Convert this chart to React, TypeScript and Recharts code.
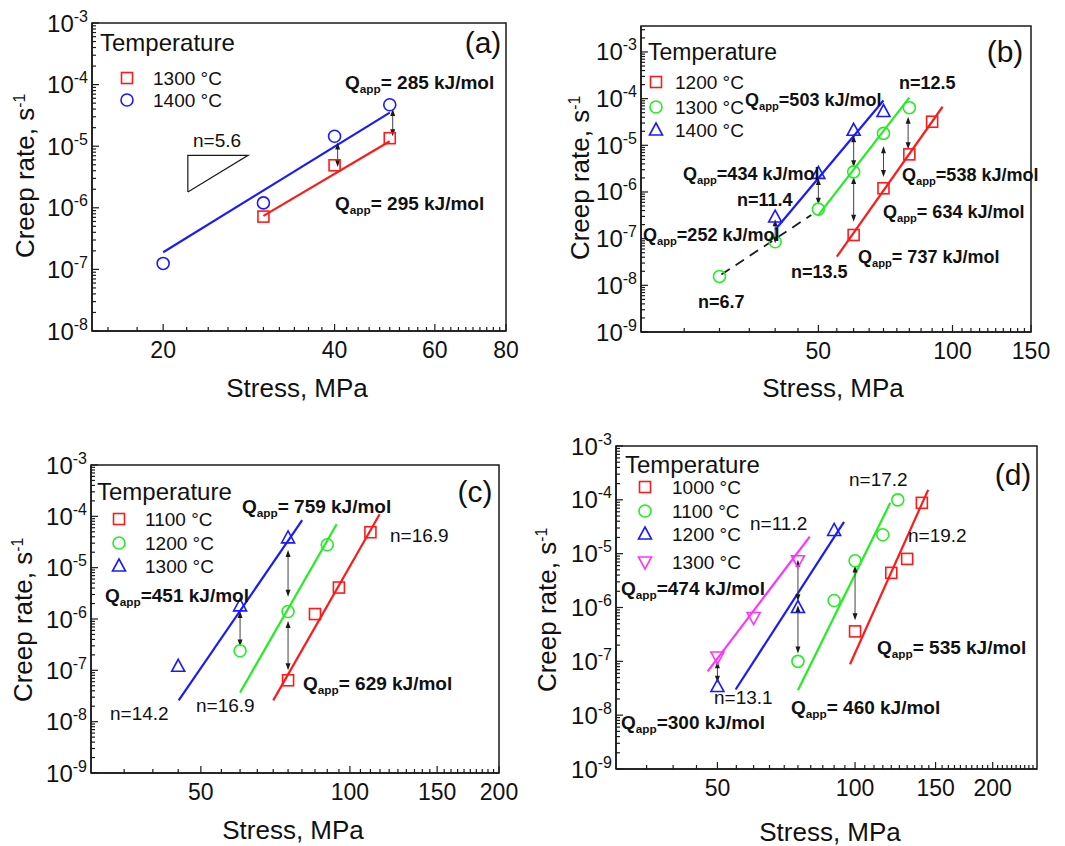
import React from 'react';
import { ComposedChart, Line, Scatter, XAxis, YAxis, ReferenceLine, ReferenceArea } from 'recharts';

const FONT = '"Liberation Sans", Arial, Helvetica, sans-serif';
const RED = '#ff1a1a';
const GREEN = '#22ee22';
const BLUE = '#1a1aff';
const MAGENTA = '#ff33ff';
const INK = '#1a1a1a';

type Pt = { x: number; y: number };
type Arrow = { x: number; y1: number; y2: number };
type Kind = 'square' | 'circle' | 'up' | 'down';

// ---- (a) ----
const a1300: Pt[] = [{ x: 30, y: 7.2e-7 }, { x: 40, y: 4.9e-6 }, { x: 50, y: 1.35e-5 }];
const a1400: Pt[] = [{ x: 20, y: 1.25e-7 }, { x: 30, y: 1.2e-6 }, { x: 40, y: 1.45e-5 }, { x: 50, y: 4.7e-5 }];
const aFit1300: Pt[] = [{ x: 30, y: 7.4e-7 }, { x: 50, y: 1.2e-5 }];
const aFit1400: Pt[] = [{ x: 20, y: 1.9e-7 }, { x: 50, y: 3.5e-5 }];
const aSlope: Pt[] = [{ x: 22.1, y: 1.8e-6 }, { x: 22.1, y: 7.1e-6 }, { x: 28.2, y: 7.1e-6 }, { x: 22.1, y: 1.8e-6 }];
const aArrows: Arrow[] = [{ x: 40.5, y1: 1.15e-5, y2: 4.6e-6 }, { x: 50.6, y1: 4e-5, y2: 1.45e-5 }];
const aXMajor = [20, 40, 60, 80];
const aXMinor = [16, 18, 22, 24, 26, 28, 30, 32, 34, 36, 38, 42, 44, 46, 48, 50, 52, 54, 56, 58, 62, 64, 66, 68, 70, 72, 74, 76, 78];
const aYMajor = [1e-8, 1e-7, 1e-6, 1e-5, 1e-4, 1e-3];

// ---- (b) ----
const b1200: Pt[] = [{ x: 60, y: 1.2e-7 }, { x: 70, y: 1.2e-6 }, { x: 80, y: 6.4e-6 }, { x: 90, y: 3.2e-5 }];
const b1300: Pt[] = [{ x: 30, y: 1.55e-8 }, { x: 40, y: 8.6e-8 }, { x: 50, y: 4.3e-7 }, { x: 60, y: 2.7e-6 }, { x: 70, y: 1.8e-5 }, { x: 80, y: 6.4e-5 }];
const b1400: Pt[] = [{ x: 40, y: 2.9e-7 }, { x: 50, y: 2.5e-6 }, { x: 60, y: 2.1e-5 }, { x: 70, y: 5.3e-5 }];
const bFit1200: Pt[] = [{ x: 55, y: 4.1e-8 }, { x: 95, y: 6.7e-5 }];
const bFit1300: Pt[] = [{ x: 50, y: 3.2e-7 }, { x: 80, y: 1.05e-4 }];
const bFit1400: Pt[] = [{ x: 40, y: 1.55e-7 }, { x: 70, y: 9.1e-5 }];
const bFitLow: Pt[] = [{ x: 30.3, y: 1.7e-8 }, { x: 48.2, y: 3.2e-7 }];
const bArrows: Arrow[] = [
  { x: 40, y1: 2.6e-7, y2: 8e-8 },
  { x: 50, y1: 2e-6, y2: 5.3e-7 },
  { x: 60, y1: 1.64e-5, y2: 3.4e-6 },
  { x: 60, y1: 2.1e-6, y2: 2.3e-7 },
  { x: 70, y1: 9.5e-6, y2: 2.1e-6 },
  { x: 79.5, y1: 4.1e-5, y2: 8.2e-6 },
];
const bXMajor = [50, 100, 150];
const bXMinor = [25, 30, 35, 40, 45, 55, 60, 65, 70, 75, 80, 85, 90, 95, 105, 110, 115, 120, 125, 130, 135, 140, 145];
const bYMajor = [1e-9, 1e-8, 1e-7, 1e-6, 1e-5, 1e-4, 1e-3];

// ---- (c) ----
const c1100: Pt[] = [{ x: 75, y: 6.4e-8 }, { x: 85, y: 1.25e-6 }, { x: 95, y: 4.1e-6 }, { x: 110, y: 4.9e-5 }];
const c1200: Pt[] = [{ x: 60, y: 2.4e-7 }, { x: 75, y: 1.4e-6 }, { x: 90, y: 2.8e-5 }];
const c1300: Pt[] = [{ x: 45, y: 1.2e-7 }, { x: 60, y: 1.8e-6 }, { x: 75, y: 3.8e-5 }];
const cFit1100: Pt[] = [{ x: 70, y: 2.6e-8 }, { x: 114.8, y: 1.1e-4 }];
const cFit1200: Pt[] = [{ x: 60, y: 3.7e-8 }, { x: 94, y: 7e-5 }];
const cFit1300: Pt[] = [{ x: 45.1, y: 2.6e-8 }, { x: 80.1, y: 8.4e-5 }];
const cArrows: Arrow[] = [
  { x: 60, y1: 1.43e-6, y2: 2.9e-7 },
  { x: 75, y1: 2.2e-5, y2: 2.7e-6 },
  { x: 75, y1: 9.1e-7, y2: 1e-7 },
];
const cXMajor = [50, 100, 150, 200];
const cXMinor = [35, 40, 45, 55, 60, 65, 70, 75, 80, 85, 90, 95, 105, 110, 115, 120, 125, 130, 135, 140, 145, 155, 160, 165, 170, 175, 180, 185, 190, 195];

// ---- (d) ----
const d1000: Pt[] = [{ x: 100, y: 3.6e-7 }, { x: 120, y: 4.4e-6 }, { x: 130, y: 8e-6 }, { x: 140, y: 8.8e-5 }];
const d1100: Pt[] = [{ x: 75, y: 1e-7 }, { x: 90, y: 1.35e-6 }, { x: 100, y: 7.4e-6 }, { x: 115, y: 2.25e-5 }, { x: 124, y: 1e-4 }];
const d1200: Pt[] = [{ x: 50, y: 3.4e-8 }, { x: 75, y: 1e-6 }, { x: 90, y: 2.7e-5 }];
const d1300: Pt[] = [{ x: 50, y: 1.2e-7 }, { x: 60, y: 6.5e-7 }, { x: 75, y: 7.4e-6 }];
const dFit1000: Pt[] = [{ x: 97.5, y: 8.8e-8 }, { x: 144.5, y: 1.53e-4 }];
const dFit1100: Pt[] = [{ x: 75, y: 2.9e-8 }, { x: 119.4, y: 8.8e-5 }];
const dFit1200: Pt[] = [{ x: 54.8, y: 3e-8 }, { x: 94.6, y: 3.9e-5 }];
const dFit1300: Pt[] = [{ x: 47.6, y: 6.5e-8 }, { x: 79.6, y: 2.07e-5 }];
const dArrows: Arrow[] = [
  { x: 50, y1: 1e-7, y2: 4e-8 },
  { x: 75, y1: 7.7e-6, y2: 1.3e-6 },
  { x: 75, y1: 1.1e-6, y2: 1.4e-7 },
  { x: 100, y1: 6e-6, y2: 5.8e-7 },
];
const dXMajor = [50, 100, 150, 200];
const dXMinor = [35, 40, 45, 55, 60, 65, 70, 75, 80, 85, 90, 95, 105, 110, 115, 120, 125, 130, 135, 140, 145, 155, 160, 165, 170, 175, 180, 185, 190, 195, 205, 210, 215, 220, 225, 230, 235, 240, 245];

const minorsOf = (majors: number[], top?: number) => {
  const out: number[] = [];
  majors.forEach((m) => {
    for (let k = 2; k <= 9; k++) {
      const v = m * k;
      if (v < (top ?? majors[majors.length - 1])) out.push(v);
    }
  });
  return out;
};

const MarkerShape = ({ cx, cy, kind, color }: { cx: number; cy: number; kind: Kind; color: string }) => {
  const sw = 1.6;
  if (kind === 'square') return <rect x={cx - 5.5} y={cy - 5.5} width={11} height={11} fill="none" stroke={color} strokeWidth={sw} />;
  if (kind === 'circle') return <circle cx={cx} cy={cy} r={6} fill="none" stroke={color} strokeWidth={sw} />;
  if (kind === 'up') return <polygon points={`${cx},${cy - 7} ${cx + 6.5},${cy + 5} ${cx - 6.5},${cy + 5}`} fill="none" stroke={color} strokeWidth={sw} />;
  return <polygon points={`${cx},${cy + 7} ${cx + 6.5},${cy - 5} ${cx - 6.5},${cy - 5}`} fill="none" stroke={color} strokeWidth={sw} />;
};

const arrowShape = (props: any) => {
  const { x1, y1, y2 } = props;
  if ([x1, y1, y2].some((v) => v == null || isNaN(v))) return null;
  const top = Math.min(y1, y2);
  const bot = Math.max(y1, y2);
  return (
    <g>
      <line x1={x1} x2={x1} y1={top + 3} y2={bot - 3} stroke="#444" strokeWidth={1} />
      <polygon points={`${x1},${top} ${x1 - 2.5},${top + 7} ${x1 + 2.5},${top + 7}`} fill={INK} />
      <polygon points={`${x1},${bot} ${x1 - 2.5},${bot - 7} ${x1 + 2.5},${bot - 7}`} fill={INK} />
    </g>
  );
};

const makeXTick = (axisY: number, majors: number[]) => (props: any) => {
  const { x, payload } = props;
  const major = majors.includes(payload.value);
  return (
    <g>
      <line x1={x} x2={x} y1={axisY} y2={axisY - (major ? 7 : 4)} stroke={INK} strokeWidth={1.2} />
      {major && (
        <text x={x} y={axisY + 27} textAnchor="middle" fontSize={23} fontFamily={FONT} fill="#111">
          {payload.value}
        </text>
      )}
    </g>
  );
};

const makeYTick = (axisX: number) => (props: any) => {
  const { y, payload } = props;
  const lg = Math.log10(payload.value);
  const e = Math.round(lg);
  const major = Math.abs(lg - e) < 1e-6;
  return (
    <g>
      <line x1={axisX} x2={axisX + (major ? 7 : 4)} y1={y} y2={y} stroke={INK} strokeWidth={1.2} />
      {major && (
        <text x={axisX - 4} y={y + 8.5} textAnchor="end" fontSize={24} fontFamily={FONT} fill="#111">
          10
          <tspan dy={-10} fontSize={16}>{`-${-e}`}</tspan>
        </text>
      )}
    </g>
  );
};

interface SeriesDef { kind: Kind; color: string; points: Pt[]; fit: Pt[] }
interface PanelProps {
  box: { left: number; right: number; top: number; bottom: number };
  xDomain: [number, number];
  yDomain: [number, number];
  xMajor: number[];
  xMinor: number[];
  yMajor: number[];
  yMinor: number[];
  series: SeriesDef[];
  arrows: Arrow[];
  extras?: { points: Pt[]; dash?: string; width?: number }[];
}

const W = 1065;
const H = 846;

function Panel(p: PanelProps) {
  const YW = 40;
  const XH = 40;
  const margin = { left: p.box.left - YW, right: W - p.box.right, top: p.box.top, bottom: H - p.box.bottom - XH };
  const xTicks = [...p.xMajor, ...p.xMinor].sort((a, b) => a - b);
  const yTicks = [...p.yMajor, ...p.yMinor].sort((a, b) => a - b);
  return (
    <div style={{ position: 'absolute', left: 0, top: 0 }}>
      <ComposedChart width={W} height={H} margin={margin}>
        <XAxis
          type="number"
          dataKey="x"
          scale="log"
          domain={p.xDomain}
          allowDataOverflow
          ticks={xTicks}
          interval={0}
          tickLine={false}
          tickSize={0}
          height={XH}
          axisLine={{ stroke: INK, strokeWidth: 1.5 }}
          tick={makeXTick(p.box.bottom, p.xMajor)}
        />
        <YAxis
          type="number"
          dataKey="y"
          scale="log"
          domain={p.yDomain}
          allowDataOverflow
          ticks={yTicks}
          interval={0}
          tickLine={false}
          tickSize={0}
          width={YW}
          axisLine={{ stroke: INK, strokeWidth: 1.5 }}
          tick={makeYTick(p.box.left)}
        />
        <ReferenceArea x1={p.xDomain[0]} x2={p.xDomain[1]} y1={p.yDomain[0]} y2={p.yDomain[1]} fill="none" fillOpacity={0} stroke={INK} strokeWidth={1.5} ifOverflow="visible" />
        {(p.extras || []).map((e, i) => (
          <Line key={`e${i}`} data={e.points} dataKey="y" stroke={INK} strokeWidth={e.width ?? 1.2} strokeDasharray={e.dash} dot={false} isAnimationActive={false} />
        ))}
        {p.series.map((s, i) => (
          <Line key={`f${i}`} data={s.fit} dataKey="y" stroke={s.color} strokeWidth={2.2} dot={false} isAnimationActive={false} />
        ))}
        {p.series.map((s, i) => (
          <Scatter
            key={`s${i}`}
            data={s.points}
            dataKey="y"
            isAnimationActive={false}
            shape={(props: any) => <MarkerShape cx={props.cx} cy={props.cy} kind={s.kind} color={s.color} />}
          />
        ))}
        {p.arrows.map((a, i) => (
          <ReferenceLine key={`a${i}`} segment={[{ x: a.x, y: a.y1 }, { x: a.x, y: a.y2 }]} shape={arrowShape} ifOverflow="visible" />
        ))}
      </ComposedChart>
    </div>
  );
}

const Txt = ({ x, y, size = 19, bold = false, center = false, children }: any) => (
  <div
    style={{
      position: 'absolute',
      left: x,
      top: y,
      transform: center ? 'translate(-50%, -50%)' : 'translateY(-50%)',
      fontSize: size,
      fontWeight: bold ? 700 : 400,
      lineHeight: 1,
      whiteSpace: 'nowrap',
      color: '#111',
    }}
  >
    {children}
  </div>
);

const Q = ({ v }: { v: string }) => (
  <>
    Q<span style={{ fontSize: '0.62em', position: 'relative', top: '0.38em' }}>app</span>
    {v}
  </>
);

const LegendRow = ({ mx, tx, y, kind, color, label, size = 19 }: any) => (
  <>
    <svg style={{ position: 'absolute', left: mx - 9, top: y - 9 }} width={18} height={18}>
      <MarkerShape cx={9} cy={9} kind={kind} color={color} />
    </svg>
    <Txt x={tx} y={y} size={size}>{label}</Txt>
  </>
);

const YTitle = ({ x, y }: { x: number; y: number }) => (
  <div style={{ position: 'absolute', left: x, top: y, transform: 'translate(-50%, -50%) rotate(-90deg)', fontSize: 26, lineHeight: 1, whiteSpace: 'nowrap', color: '#111' }}>
    Creep rate, s<span style={{ fontSize: '0.6em', position: 'relative', top: '-0.6em' }}>-1</span>
  </div>
);

export default function App() {
  return (
    <div style={{ position: 'absolute', left: 0, top: 0, width: W, height: H, background: '#fff', overflow: 'hidden', fontFamily: FONT }}>
      <Panel
        box={{ left: 92, right: 506, top: 23, bottom: 331 }}
        xDomain={[15, 80]}
        yDomain={[1e-8, 1e-3]}
        xMajor={aXMajor}
        xMinor={aXMinor}
        yMajor={aYMajor}
        yMinor={minorsOf(aYMajor)}
        series={[
          { kind: 'square', color: RED, points: a1300, fit: aFit1300 },
          { kind: 'circle', color: BLUE, points: a1400, fit: aFit1400 },
        ]}
        arrows={aArrows}
        extras={[{ points: aSlope, width: 1.2 }]}
      />
      <Panel
        box={{ left: 641, right: 1031, top: 26, bottom: 332 }}
        xDomain={[20, 150]}
        yDomain={[1e-9, 3.6e-3]}
        xMajor={bXMajor}
        xMinor={bXMinor}
        yMajor={bYMajor}
        yMinor={minorsOf(bYMajor, 3.6e-3)}
        series={[
          { kind: 'square', color: RED, points: b1200, fit: bFit1200 },
          { kind: 'circle', color: GREEN, points: b1300, fit: bFit1300 },
          { kind: 'up', color: BLUE, points: b1400, fit: bFit1400 },
        ]}
        arrows={bArrows}
        extras={[{ points: bFitLow, dash: '10 7', width: 1.8 }]}
      />
      <Panel
        box={{ left: 91, right: 499, top: 465, bottom: 773 }}
        xDomain={[30, 200]}
        yDomain={[1e-9, 1e-3]}
        xMajor={cXMajor}
        xMinor={cXMinor}
        yMajor={bYMajor}
        yMinor={minorsOf(bYMajor)}
        series={[
          { kind: 'square', color: RED, points: c1100, fit: cFit1100 },
          { kind: 'circle', color: GREEN, points: c1200, fit: cFit1200 },
          { kind: 'up', color: BLUE, points: c1300, fit: cFit1300 },
        ]}
        arrows={cArrows}
      />
      <Panel
        box={{ left: 616, right: 1037, top: 446, bottom: 769 }}
        xDomain={[30, 250]}
        yDomain={[1e-9, 1e-3]}
        xMajor={dXMajor}
        xMinor={dXMinor}
        yMajor={bYMajor}
        yMinor={minorsOf(bYMajor)}
        series={[
          { kind: 'square', color: RED, points: d1000, fit: dFit1000 },
          { kind: 'circle', color: GREEN, points: d1100, fit: dFit1100 },
          { kind: 'up', color: BLUE, points: d1200, fit: dFit1200 },
          { kind: 'down', color: MAGENTA, points: d1300, fit: dFit1300 },
        ]}
        arrows={dArrows}
      />

      {/* (a) */}
      <YTitle x={25} y={176} />
      <Txt x={297} y={388} size={26} center>Stress, MPa</Txt>
      <Txt x={100} y={43} size={24}>Temperature</Txt>
      <LegendRow mx={127} tx={153} y={78} kind="square" color={RED} label="1300 °C" />
      <LegendRow mx={127} tx={153} y={100} kind="circle" color={BLUE} label="1400 °C" />
      <Txt x={483} y={43} size={30} center>(a)</Txt>
      <Txt x={345} y={82} bold><Q v="= 285 kJ/mol" /></Txt>
      <Txt x={335} y={203} bold><Q v="= 295 kJ/mol" /></Txt>
      <Txt x={193} y={140} size={19}>n=5.6</Txt>

      {/* (b) */}
      <YTitle x={580} y={178} />
      <Txt x={833} y={388} size={26} center>Stress, MPa</Txt>
      <Txt x={648} y={52} size={23}>Temperature</Txt>
      <LegendRow mx={656} tx={675} y={82} kind="square" color={RED} label="1200 °C" />
      <LegendRow mx={656} tx={675} y={107} kind="circle" color={GREEN} label="1300 °C" />
      <LegendRow mx={656} tx={675} y={130} kind="up" color={BLUE} label="1400 °C" />
      <Txt x={1005} y={52} size={30} center>(b)</Txt>
      <Txt x={899} y={83} size={18} bold>n=12.5</Txt>
      <Txt x={745} y={100} size={18} bold><Q v="=503 kJ/mol" /></Txt>
      <Txt x={683} y={174} size={18} bold><Q v="=434 kJ/mol" /></Txt>
      <Txt x={737} y={200} size={18} bold>n=11.4</Txt>
      <Txt x={902} y={175} size={18} bold><Q v="=538 kJ/mol" /></Txt>
      <Txt x={883} y={212} size={18} bold><Q v="= 634 kJ/mol" /></Txt>
      <Txt x={643} y={235} size={18} bold><Q v="=252 kJ/mol" /></Txt>
      <Txt x={858} y={257} size={18} bold><Q v="= 737 kJ/mol" /></Txt>
      <Txt x={791} y={272} size={18} bold>n=13.5</Txt>
      <Txt x={698} y={302} size={18} bold>n=6.7</Txt>

      {/* (c) */}
      <YTitle x={23} y={620} />
      <Txt x={293} y={830} size={26} center>Stress, MPa</Txt>
      <Txt x={97} y={492} size={24}>Temperature</Txt>
      <LegendRow mx={119} tx={145} y={519} kind="square" color={RED} label="1100 °C" />
      <LegendRow mx={119} tx={145} y={543} kind="circle" color={GREEN} label="1200 °C" />
      <LegendRow mx={119} tx={145} y={566} kind="up" color={BLUE} label="1300 °C" />
      <Txt x={475} y={492} size={30} center>(c)</Txt>
      <Txt x={242} y={506} bold><Q v="= 759 kJ/mol" /></Txt>
      <Txt x={105} y={595} bold><Q v="=451 kJ/mol" /></Txt>
      <Txt x={303} y={683} bold><Q v="= 629 kJ/mol" /></Txt>
      <Txt x={390} y={535}>n=16.9</Txt>
      <Txt x={110} y={713}>n=14.2</Txt>
      <Txt x={196} y={705}>n=16.9</Txt>

      {/* (d) */}
      <YTitle x={547} y={610} />
      <Txt x={830} y={832} size={26} center>Stress, MPa</Txt>
      <Txt x={625} y={465} size={24}>Temperature</Txt>
      <LegendRow mx={645} tx={672} y={487} kind="square" color={RED} label="1000 °C" />
      <LegendRow mx={645} tx={672} y={511} kind="circle" color={GREEN} label="1100 °C" />
      <LegendRow mx={645} tx={672} y={534} kind="up" color={BLUE} label="1200 °C" />
      <LegendRow mx={645} tx={672} y={562} kind="down" color={MAGENTA} label="1300 °C" />
      <Txt x={1013} y={475} size={30} center>(d)</Txt>
      <Txt x={849} y={479}>n=17.2</Txt>
      <Txt x={750} y={523}>n=11.2</Txt>
      <Txt x={908} y={535}>n=19.2</Txt>
      <Txt x={621} y={588} bold><Q v="=474 kJ/mol" /></Txt>
      <Txt x={714} y={697}>n=13.1</Txt>
      <Txt x={621} y={722} bold><Q v="=300 kJ/mol" /></Txt>
      <Txt x={791} y={707} bold><Q v="= 460 kJ/mol" /></Txt>
      <Txt x={877} y={647} bold><Q v="= 535 kJ/mol" /></Txt>
    </div>
  );
}
